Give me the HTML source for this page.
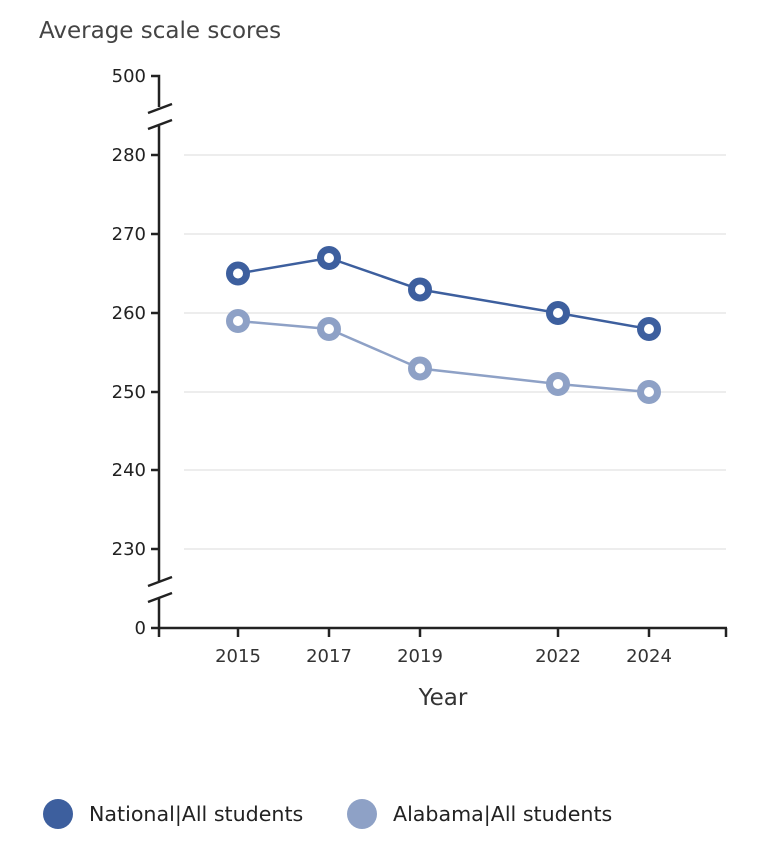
<!DOCTYPE html>
<html><head><style>body{margin:0;background:#fff;}svg{display:block}text{font-family:"DejaVu Sans","Liberation Sans",sans-serif;}</style></head>
<body>
<svg width="780" height="862" viewBox="0 0 780 862">
<text x="39" y="38" font-size="23" fill="#444">Average scale scores</text>
<g stroke="#e2e2e2" stroke-width="1.2">
<line x1="184" y1="155" x2="726" y2="155"/><line x1="184" y1="234" x2="726" y2="234"/><line x1="184" y1="313" x2="726" y2="313"/><line x1="184" y1="392" x2="726" y2="392"/><line x1="184" y1="470" x2="726" y2="470"/><line x1="184" y1="549" x2="726" y2="549"/>
</g>
<g stroke="#222" stroke-width="2.5" fill="none">
<polyline points="151,76 159,76 159,107"/>
<line x1="159" y1="126" x2="159" y2="581"/>
<line x1="159" y1="598" x2="159" y2="628"/>
<line x1="148" y1="113" x2="172" y2="104"/><line x1="148" y1="129" x2="172" y2="120"/>
<line x1="148" y1="586" x2="172" y2="577"/><line x1="148" y1="602" x2="172" y2="593"/>
<line x1="151" y1="155" x2="159" y2="155"/><line x1="151" y1="234" x2="159" y2="234"/><line x1="151" y1="313" x2="159" y2="313"/><line x1="151" y1="392" x2="159" y2="392"/><line x1="151" y1="470" x2="159" y2="470"/><line x1="151" y1="549" x2="159" y2="549"/><line x1="151" y1="628" x2="159" y2="628"/>
<line x1="159" y1="628" x2="727" y2="628"/>
<line x1="159" y1="628" x2="159" y2="637"/><line x1="238" y1="628" x2="238" y2="637"/><line x1="329" y1="628" x2="329" y2="637"/><line x1="420" y1="628" x2="420" y2="637"/><line x1="558" y1="628" x2="558" y2="637"/><line x1="649" y1="628" x2="649" y2="637"/><line x1="726" y1="628" x2="726" y2="637"/>
</g>
<g font-size="18" fill="#222" text-anchor="end">
<text x="146" y="82">500</text><text x="146" y="161">280</text><text x="146" y="240">270</text><text x="146" y="319">260</text><text x="146" y="398">250</text><text x="146" y="476">240</text><text x="146" y="555">230</text><text x="146" y="634">0</text>
</g>
<g font-size="18" fill="#333" text-anchor="middle">
<text x="238" y="662">2015</text><text x="329" y="662">2017</text><text x="420" y="662">2019</text><text x="558" y="662">2022</text><text x="649" y="662">2024</text>
<text x="443" y="705" font-size="23">Year</text>
</g>
<polyline points="238,321 329,329 420,368.5 558,384 649,392" fill="none" stroke="#8ea1c6" stroke-width="2.5"/>
<polyline points="238,273.5 329,258 420,289.5 558,313 649,329" fill="none" stroke="#3d5f9e" stroke-width="2.5"/>
<g fill="#fff" stroke="#8ea1c6" stroke-width="7">
<circle cx="238" cy="321" r="8.5"/><circle cx="329" cy="329" r="8.5"/><circle cx="420" cy="368.5" r="8.5"/><circle cx="558" cy="384" r="8.5"/><circle cx="649" cy="392" r="8.5"/>
</g>
<g fill="#fff" stroke="#3d5f9e" stroke-width="7">
<circle cx="238" cy="273.5" r="8.5"/><circle cx="329" cy="258" r="8.5"/><circle cx="420" cy="289.5" r="8.5"/><circle cx="558" cy="313" r="8.5"/><circle cx="649" cy="329" r="8.5"/>
</g>
<circle cx="58" cy="814" r="15" fill="#3d5f9e"/>
<text x="89" y="821" font-size="20.6" fill="#222">National|All students</text>
<circle cx="362" cy="814" r="15" fill="#8ea1c6"/>
<text x="393" y="821" font-size="20.6" fill="#222">Alabama|All students</text>
</svg>
</body></html>
